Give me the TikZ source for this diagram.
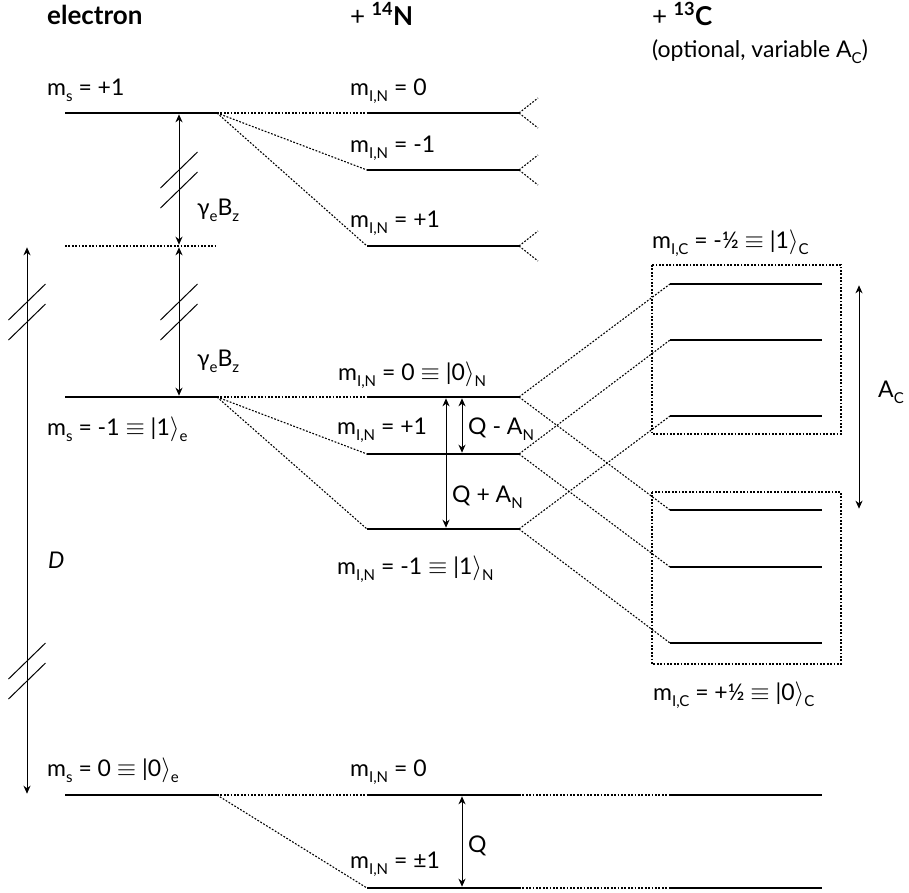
\documentclass[tikz,border=0pt]{standalone}
\usepackage{fontspec}
\setmainfont{Lato}
\usetikzlibrary{arrows.meta}
\newcommand\sbx[1]{\raisebox{-0.55ex}{\fontsize{15}{15}\selectfont #1}}
\newcommand\kt[1]{|#1$\rangle$}
\newcommand\eqv{$\equiv$}
\tikzset{
  level/.style={line width=2.8pt},
  conn/.style={line width=1.1pt, dash pattern=on 1.8pt off 1.6pt},
  dbox/.style={line width=1.1pt, dash pattern=on 1.8pt off 1.6pt},
  dbl/.style={line width=1pt, {Stealth[length=8pt,width=7pt,inset=2.5pt]}-{Stealth[length=8pt,width=7pt,inset=2.5pt]}, shorten <=1.3pt, shorten >=1.3pt},
  slash/.style={line width=1pt},
  lbl/.style={anchor=base west, inner sep=0pt, font=\fontsize{23}{27}\selectfont},
  head/.style={anchor=base west, inner sep=0pt, font=\fontsize{26}{30}\selectfont\bfseries},
  brk/.pic={\draw[slash] (-18.5,8) -- (18.5,-28); \draw[slash] (-18.5,28) -- (18.5,-8);}
}
\begin{document}
\begin{tikzpicture}[x=1pt,y=-1pt]
\useasboundingbox (0,0) rectangle (909,892);
% ---------- electron levels ----------
\coordinate (eP1a) at (65,113);  \coordinate (eP1b) at (217,113);
\coordinate (eMida) at (65,246); \coordinate (eMidb) at (217,246);
\coordinate (eM1a) at (65,397);  \coordinate (eM1b) at (217,397);
\coordinate (e0a) at (65,795);   \coordinate (e0b) at (217,795);
\draw[level] (eP1a) -- (eP1b);
\draw[conn]  (eMida) -- (eMidb);
\draw[level] (eM1a) -- (eM1b);
\draw[level] (e0a) -- (e0b);
% ---------- N levels ----------
\foreach \n/\y in {1/113,2/170,3/246,4/397,5/454,6/529,7/795,8/888}{
  \coordinate (n\n a) at (367,\y); \coordinate (n\n b) at (519,\y);
  \draw[level] (n\n a) -- (n\n b);
}
% ---------- C levels ----------
\foreach \n/\y in {1/284,2/340,3/416,4/510,5/567,6/643,7/795,8/888}{
  \coordinate (c\n a) at (670,\y); \coordinate (c\n b) at (822,\y);
  \draw[level] (c\n a) -- (c\n b);
}
% ---------- boxes ----------
\draw[dbox] (652,265) rectangle (841,434);
\draw[dbox] (652,492) rectangle (841,664);
% ---------- connectors ----------
\draw[conn] (eP1b) -- (n1a);
\draw[conn] (eP1b) -- (n2a);
\draw[conn] (eP1b) -- (n3a);
\draw[conn] (eM1b) -- (n4a);
\draw[conn] (eM1b) -- (n5a);
\draw[conn] (eM1b) -- (n6a);
\draw[conn] (e0b) -- (n7a);
\draw[conn] (e0b) -- (n8a);
\draw[conn] (n4b) -- (c1a);
\draw[conn] (n4b) -- (c4a);
\draw[conn] (n5b) -- (c2a);
\draw[conn] (n5b) -- (c5a);
\draw[conn] (n6b) -- (c3a);
\draw[conn] (n6b) -- (c6a);
\draw[conn] (n7b) -- (c7a);
\draw[conn] (n8b) -- (c8a);
\foreach \n in {1,2,3}{
  \draw[conn] (n\n b) -- +(19,-15);
  \draw[conn] (n\n b) -- +(19,15);
}
% ---------- arrows ----------
\coordinate (gA) at (179,113); \coordinate (gB) at (179,246); \coordinate (gC) at (179,397);
\draw[dbl] (gA) -- (gB);
\draw[dbl] (gB) -- (gC);
\pic at (179,180) {brk};
\pic at (179,312) {brk};
\coordinate (dA) at (27,246); \coordinate (dB) at (27,795);
\draw[dbl] (dA) -- (dB);
\pic at (27,312) {brk};
\pic at (27,671) {brk};
\coordinate (qa) at (462,397); \coordinate (qb) at (462,454);
\draw[dbl] (qa) -- (qb);
\coordinate (qc) at (446,397); \coordinate (qd) at (446,529);
\draw[dbl] (qc) -- (qd);
\coordinate (qe) at (462,795); \coordinate (qf) at (462,888);
\draw[dbl] (qe) -- (qf);
\coordinate (aa) at (859,284); \coordinate (ab) at (859,510);
\draw[dbl] (aa) -- (ab);
% ---------- labels ----------
\node[head] (hE) at (47,24) {electron};
\node[head] (hN) at (350,25) {{\mdseries +} \textsuperscript{14}N};
\node[head] (hC) at (652,25) {{\mdseries +} \textsuperscript{13}C};
\node[lbl] (hC2) at (652,57) {(optional, variable A\sbx{C})};
\node[lbl] (l1) at (47,95) {m\sbx{s} = +1};
\node[lbl] (l2) at (350,95) {m\sbx{I,N} = 0};
\node[lbl] (l3) at (350,152) {m\sbx{I,N} = -1};
\node[lbl] (l4) at (350,227) {m\sbx{I,N} = +1};
\node[lbl] (g1) at (197,215) {γ\sbx{e}B\sbx{z}};
\node[lbl] (g2) at (197,366) {γ\sbx{e}B\sbx{z}};
\node[lbl] (l5) at (47,435) {m\sbx{s} = -1 \eqv{} \kt{1}\sbx{e}};
\node[lbl] (l6) at (338,380) {m\sbx{I,N} = 0 \eqv{} \kt{0}\sbx{N}};
\node[lbl] (l7) at (337,434) {m\sbx{I,N} = +1};
\node[lbl] (l8) at (468,434) {Q - A\sbx{N}};
\node[lbl] (l9) at (452,502) {Q + A\sbx{N}};
\node[lbl] (l10) at (337,574) {m\sbx{I,N} = -1 \eqv{} \kt{1}\sbx{N}};
\node[lbl] (lD) at (48,568) {\itshape D};
\node[lbl] (l11) at (652,248) {m\sbx{I,C} = -½ \eqv{} \kt{1}\sbx{C}};
\node[lbl] (lA) at (878,397) {A\sbx{C}};
\node[lbl] (l12) at (653,700) {m\sbx{I,C} = +½ \eqv{} \kt{0}\sbx{C}};
\node[lbl] (l13) at (47,776) {m\sbx{s} = 0 \eqv{} \kt{0}\sbx{e}};
\node[lbl] (l14) at (350,776) {m\sbx{I,N} = 0};
\node[lbl] (l15) at (350,868) {m\sbx{I,N} = ±1};
\node[lbl] (lQ) at (468,852) {Q};
\end{tikzpicture}
\end{document}
